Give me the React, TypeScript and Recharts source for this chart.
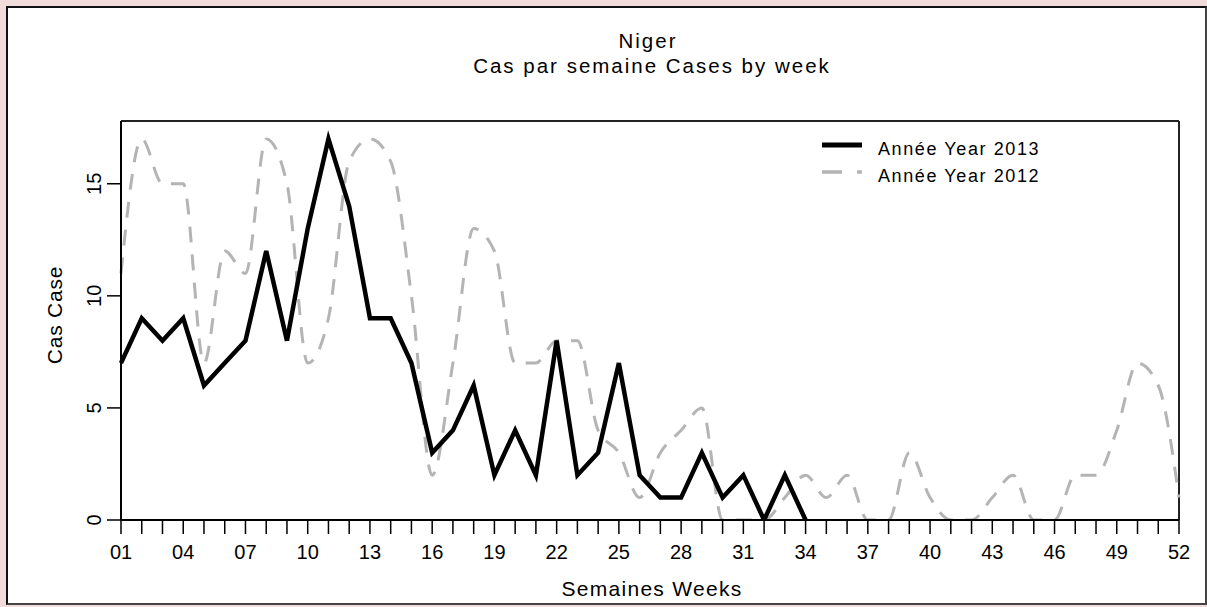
import { LineChart, Line, XAxis, YAxis, Legend, ReferenceLine } from "recharts";

// semaines / weeks
const weeks = [
  1, 2, 3, 4, 5, 6, 7, 8, 9, 10, 11, 12, 13, 14, 15, 16, 17, 18, 19, 20, 21, 22, 23, 24, 25, 26,
  27, 28, 29, 30, 31, 32, 33, 34, 35, 36, 37, 38, 39, 40, 41, 42, 43, 44, 45, 46, 47, 48, 49, 50,
  51, 52,
];

// 2013 stops at week 34
const cases2013 = [
  7, 9, 8, 9, 6, 7, 8, 12, 8, 13, 17, 14, 9, 9, 7, 3, 4, 6, 2, 4, 2, 8, 2, 3, 7, 2, 1, 1, 3, 1, 2,
  0, 2, 0,
];

const cases2012 = [
  11, 17, 15, 15, 7, 12, 11, 17, 15, 7, 9, 16, 17, 16, 10, 2, 7, 13, 12, 7, 7, 8, 8, 4, 3, 1, 3, 4,
  5, 0, 0, 0, 1, 2, 1, 2, 0, 0, 3, 1, 0, 0, 1, 2, 0, 0, 2, 2, 4, 7, 6, 1,
];

const xTickLabels = [
  "01", "04", "07", "10", "13", "16", "19", "22", "25", "28", "31", "34", "37", "40", "43", "46",
  "49", "52",
];
const yTicks = [0, 5, 10, 15];
const yMax = 17.8;

const series = [
  { key: "y2013", name: "Année Year 2013", color: "#000000", width: 4.5, dash: undefined as string | undefined },
  { key: "y2012", name: "Année Year 2012", color: "#b4b4b4", width: 3, dash: "16 12" },
];

const data = weeks.map((w, i) => ({
  week: w,
  y2013: i < cases2013.length ? cases2013[i] : null,
  y2012: cases2012[i],
}));

const FONT = "'Liberation Sans', Arial, sans-serif";
const labelled = new Map(xTickLabels.map((l) => [parseInt(l, 10), l]));

function XTick({ x, y, payload }: any) {
  const label = labelled.get(payload.value);
  if (!label) return <g />;
  return (
    <text x={x} y={y + 23} textAnchor="middle" fontFamily={FONT} fontSize={20} fill="#000">
      {label}
    </text>
  );
}

function YTick({ x, y, payload }: any) {
  const cx = x - 11;
  return (
    <text
      x={cx}
      y={y}
      transform={`rotate(-90 ${cx} ${y})`}
      textAnchor="middle"
      dominantBaseline="central"
      fontFamily={FONT}
      fontSize={20}
      fill="#000"
    >
      {payload.value}
    </text>
  );
}

function LegendBox() {
  return (
    <svg width={260} height={64} style={{ overflow: "visible" }}>
      {series.map((s, i) => (
        <g key={s.key}>
          <line
            x1={7}
            x2={47}
            y1={13 + i * 27}
            y2={13 + i * 27}
            stroke={s.color}
            strokeWidth={s.width + 0.5}
            strokeDasharray={s.dash ? "20 15" : undefined}
          />
          <text
            x={63}
            y={23 + i * 27}
            fontFamily={FONT}
            fontSize={18}
            letterSpacing={1.6}
            fill="#000"
          >
            {s.name}
          </text>
        </g>
      ))}
    </svg>
  );
}

export default function App() {
  return (
    <div
      style={{
        position: "absolute",
        left: 0,
        top: 0,
        width: 1207,
        height: 607,
        background: "#f1dcdb",
        overflow: "hidden",
      }}
    >
      <div
        style={{
          position: "absolute",
          left: 6,
          top: 6,
          width: 1201,
          height: 599,
          boxSizing: "border-box",
          background: "#fff",
          borderTop: "2px solid #111",
          borderLeft: "2px solid #111",
          borderRight: "2px solid #444",
          borderBottom: "2px solid #444",
        }}
      />
      <div style={{ position: "absolute", left: 0, top: 0 }}>
        <LineChart
          width={1207}
          height={607}
          data={data}
          margin={{ top: 121, right: 28, bottom: 47, left: 61 }}
        >
          <XAxis
            dataKey="week"
            type="number"
            domain={[1, 52]}
            ticks={weeks}
            interval={0}
            height={40}
            tickSize={14}
            tick={<XTick />}
            axisLine={{ stroke: "#000", strokeWidth: 2 }}
            tickLine={{ stroke: "#000", strokeWidth: 1.5 }}
          />
          <YAxis
            type="number"
            domain={[0, yMax]}
            ticks={yTicks}
            width={60}
            tickSize={14}
            tick={<YTick />}
            allowDataOverflow
            axisLine={{ stroke: "#000", strokeWidth: 2 }}
            tickLine={{ stroke: "#000", strokeWidth: 1.5 }}
          />
          {/* plot frame: top and right edges */}
          <ReferenceLine y={yMax} stroke="#222" strokeWidth={2} ifOverflow="extendDomain" />
          <ReferenceLine x={52} stroke="#222" strokeWidth={2} />
          <Line
            dataKey="y2012"
            name={series[1].name}
            type="monotone"
            stroke={series[1].color}
            strokeWidth={series[1].width}
            strokeDasharray={series[1].dash}
            dot={false}
            isAnimationActive={false}
          />
          <Line
            dataKey="y2013"
            name={series[0].name}
            type="linear"
            stroke={series[0].color}
            strokeWidth={series[0].width}
            strokeLinejoin="miter"
            dot={false}
            connectNulls={false}
            isAnimationActive={false}
          />
          <Legend
            layout="horizontal"
            verticalAlign="middle"
            align="center"
            content={<LegendBox />}
            wrapperStyle={{ position: "absolute", left: 815, top: 132, width: 260, height: 64 }}
          />
        </LineChart>
      </div>
      <svg
        width={1207}
        height={607}
        style={{ position: "absolute", left: 0, top: 0, pointerEvents: "none" }}
      >
        <text x={648} y={48} textAnchor="middle" fontFamily={FONT} fontSize={20.5} letterSpacing={2} fill="#000">
          Niger
        </text>
        <text x={652} y={73} textAnchor="middle" fontFamily={FONT} fontSize={20.5} letterSpacing={2} fill="#000">
          Cas par semaine Cases by week
        </text>
        <text x={652} y={596} textAnchor="middle" fontFamily={FONT} fontSize={21} letterSpacing={1.3} fill="#000">
          Semaines Weeks
        </text>
        <text
          x={54}
          y={315}
          transform="rotate(-90 54 315)"
          textAnchor="middle"
          dominantBaseline="central"
          fontFamily={FONT}
          fontSize={21}
          letterSpacing={0.8}
          fill="#000"
        >
          Cas Case
        </text>
      </svg>
    </div>
  );
}
